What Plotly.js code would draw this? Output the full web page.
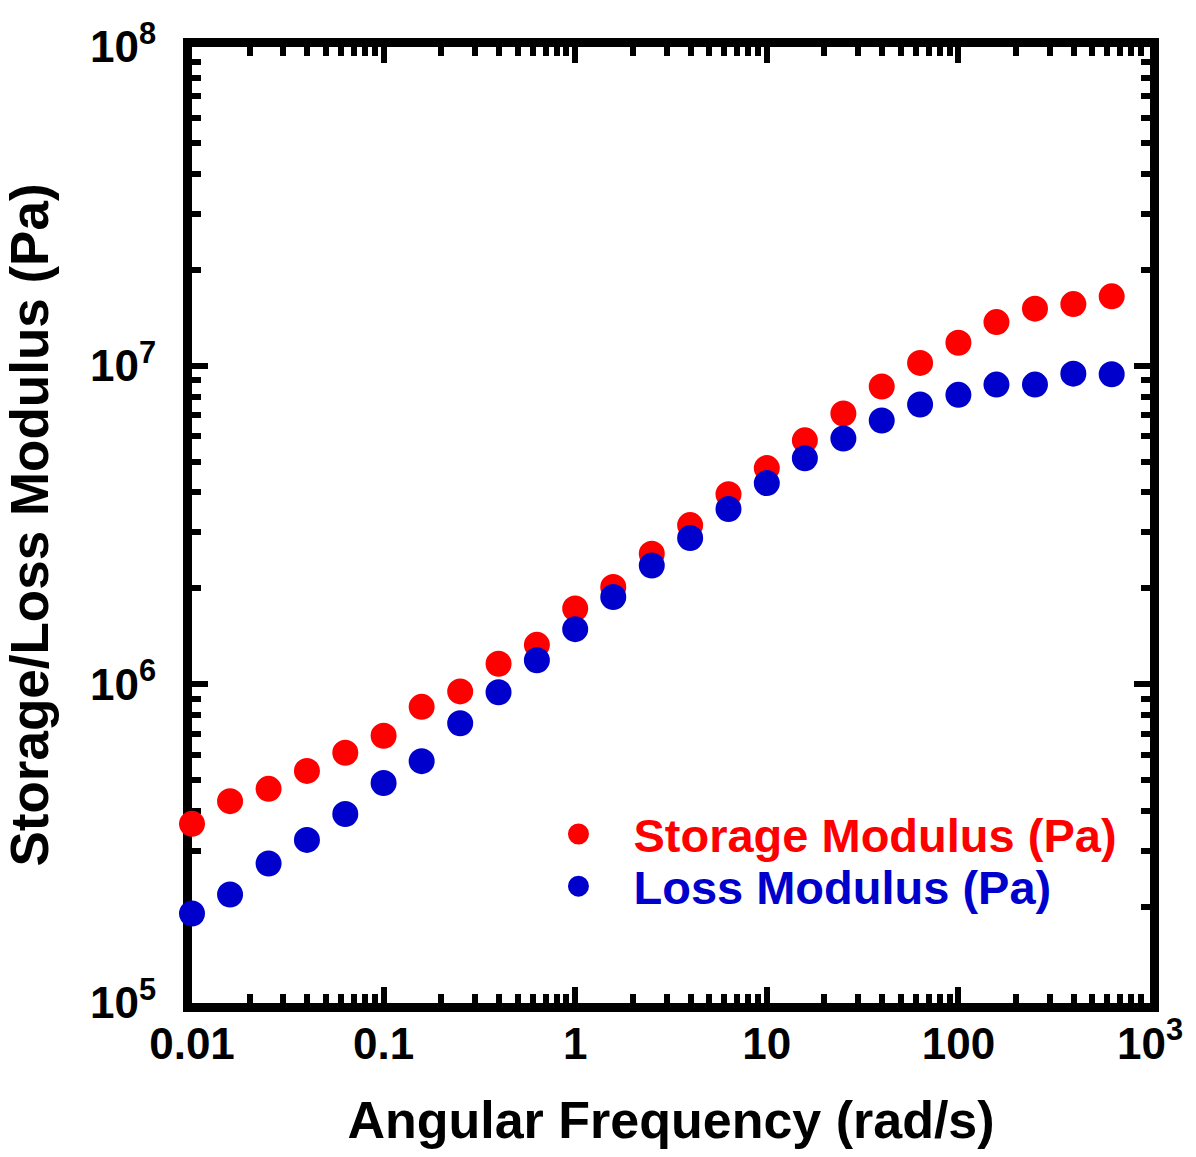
<!DOCTYPE html>
<html>
<head>
<meta charset="utf-8">
<script src="https://cdn.plot.ly/plotly-3.0.1.min.js"></script>
<style>html,body{margin:0;padding:0;background:#fff;}#chart{width:1196px;height:1157px;}</style>
</head>
<body>
<div id="chart"></div>
<script>
var frequency = [0.01, 0.0158, 0.0251, 0.0398, 0.0631, 0.1, 0.158, 0.251, 0.398, 0.631, 1, 1.58, 2.51, 3.98, 6.31, 10, 15.8, 25.1, 39.8, 63.1, 100, 158, 251, 398, 631];
var storageModulus = [3.65e5, 4.3e5, 4.7e5, 5.35e5, 6.1e5, 6.9e5, 8.5e5, 9.5e5, 1.16e6, 1.33e6, 1.73e6, 2.02e6, 2.57e6, 3.16e6, 3.95e6, 4.77e6, 5.83e6, 7.08e6, 8.6e6, 1.02e7, 1.18e7, 1.37e7, 1.51e7, 1.56e7, 1.65e7];
var lossModulus = [1.91e5, 2.19e5, 2.74e5, 3.25e5, 3.92e5, 4.9e5, 5.74e5, 7.55e5, 9.44e5, 1.19e6, 1.49e6, 1.88e6, 2.36e6, 2.88e6, 3.55e6, 4.28e6, 5.12e6, 5.91e6, 6.73e6, 7.55e6, 8.1e6, 8.72e6, 8.72e6, 9.44e6, 9.4e6];
var xTickVals = [0.01, 0.1, 1, 10, 100, 1000];
var xTickText = ['0.01', '0.1', '1', '10', '100', '10<sup>3</sup>'];
var yTickVals = [1e5, 1e6, 1e7, 1e8];
var yTickText = ['10<sup>5</sup>', '10<sup>6</sup>', '10<sup>7</sup>', '10<sup>8</sup>'];

var FONT = 'Liberation Sans, Arial, sans-serif';

var traces = [
  {
    x: frequency, y: storageModulus, type: 'scatter', mode: 'markers',
    name: '<span style="color:#ff0000">Storage Modulus (Pa)</span>',
    marker: {color: '#ff0000', size: 21, line: {color: '#ff0000', width: 5}},
    cliponaxis: false, legend: 'legend'
  },
  {
    x: frequency, y: lossModulus, type: 'scatter', mode: 'markers',
    name: '<span style="color:#0000cc">Loss Modulus (Pa)</span>',
    marker: {color: '#0000cc', size: 21, line: {color: '#0000cc', width: 5}},
    cliponaxis: false, legend: 'legend2'
  }
];

var axisCommon = {
  showgrid: false, zeroline: false,
  showline: true, linecolor: '#000', linewidth: 9, mirror: 'allticks',
  ticks: 'inside', ticklen: 16, tickwidth: 6, tickcolor: '#000',
  minor: {ticks: 'inside', ticklen: 9, tickwidth: 6, tickcolor: '#000', dtick: 'D1', showgrid: false},
  tickfont: {family: FONT, size: 44, color: '#000', weight: 'bold'},
  layer: 'below traces',
  automargin: false
};

var legendCommon = {
  xanchor: 'left', yanchor: 'top',
  bgcolor: 'rgba(0,0,0,0)', borderwidth: 0,
  font: {family: FONT, size: 47, weight: 'bold'},
  itemsizing: 'trace', itemwidth: 100
};

var layout = {
  width: 1196, height: 1157,
  margin: {l: 192, r: 46, t: 47, b: 154},
  paper_bgcolor: '#fff', plot_bgcolor: '#fff',
  font: {family: FONT, color: '#000'},
  showlegend: true,
  legend: Object.assign({}, legendCommon, {x: 0.346, y: 0.2155}),
  legend2: Object.assign({}, legendCommon, {x: 0.346, y: 0.161}),
  xaxis: Object.assign({}, axisCommon, {
    type: 'log', range: [-2, 3],
    tickmode: 'array', tickvals: xTickVals, ticktext: xTickText,
    ticklabelstandoff: -6,
    title: {text: 'Angular Frequency (rad/s)', font: {family: FONT, size: 52, color: '#000', weight: 'bold'}, standoff: 38}
  }),
  yaxis: Object.assign({}, axisCommon, {
    type: 'log', range: [5, 8],
    tickmode: 'array', tickvals: yTickVals, ticktext: yTickText,
    ticklabelstandoff: 18,
    title: {text: 'Storage/Loss Modulus (Pa)', font: {family: FONT, size: 53, color: '#000', weight: 'bold'}, standoff: 30}
  })
};

Plotly.newPlot('chart', traces, layout, {displayModeBar: false, staticPlot: true});
</script>
</body>
</html>
